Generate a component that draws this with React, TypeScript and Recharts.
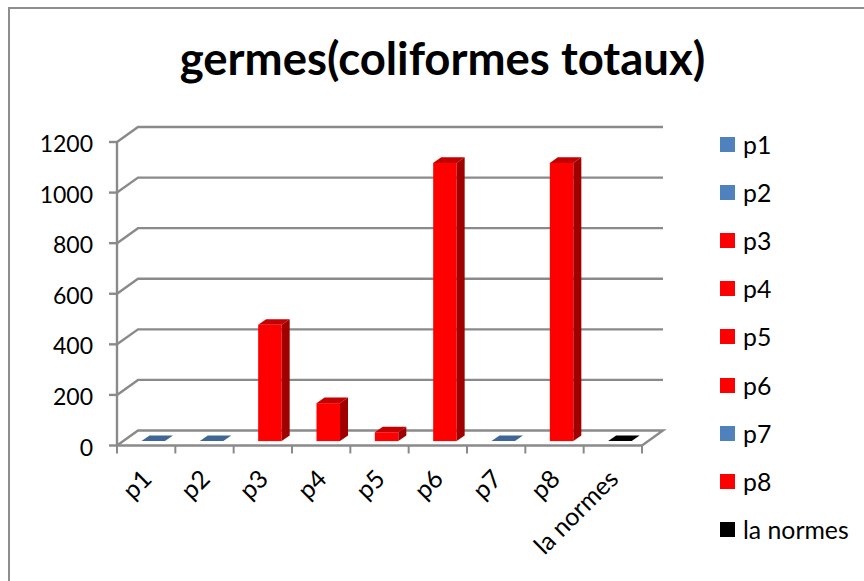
import { BarChart, Bar, XAxis, YAxis, CartesianGrid, Legend } from "recharts";

const categories = ["p1", "p2", "p3", "p4", "p5", "p6", "p7", "p8", "la normes"];
const values = [0, 0, 460, 150, 35, 1100, 0, 1100, 0];
const barColors = ["#4f81bd", "#4f81bd", "#ff0000", "#ff0000", "#ff0000", "#ff0000", "#4f81bd", "#ff0000", "#000000"];
const yTicks = [0, 200, 400, 600, 800, 1000, 1200];

const topShade: Record<string, string> = { "#4f81bd": "#3e6796", "#ff0000": "#c40000", "#000000": "#000000" };
const sideShade: Record<string, string> = { "#4f81bd": "#2f4e72", "#ff0000": "#a00000", "#000000": "#000000" };

const data = categories.map((name, i) => ({ name, value: values[i], color: barColors[i] }));

const FONT = "Lato, sans-serif";
const AXIS = "#8a8a8a";
const DEPTH_X = 21;
const DEPTH_Y = 15;

// bars sit a little behind the front plane, like the excel 3d column
function Column(props: any) {
  const { x, y, width, height, index } = props;
  const color = barColors[index];
  const left = x + 7.5;
  const right = left + width;
  const top = y - 4.4;
  const bottom = top + height;
  const dx = 8;
  const dy = 5.6;
  return (
    <g>
      <rect x={left} y={top} width={width} height={height} fill={color} />
      <polygon
        points={`${left},${top} ${right},${top} ${right + dx},${top - dy} ${left + dx},${top - dy}`}
        fill={topShade[color]}
      />
      <polygon
        points={`${right},${top} ${right + dx},${top - dy} ${right + dx},${bottom - dy} ${right},${bottom}`}
        fill={sideShade[color]}
      />
    </g>
  );
}

function WallLine(props: any) {
  const { x1, x2, y1 } = props;
  const isFloor = y1 > 440;
  return (
    <g key={`wall-${y1}`}>
      <polyline
        points={`${x1},${y1} ${x1 + DEPTH_X},${y1 - DEPTH_Y} ${x2 + DEPTH_X},${y1 - DEPTH_Y}${isFloor ? ` ${x2},${y1}` : ""}`}
        fill="none"
        stroke={AXIS}
        strokeWidth={2.4}
      />
    </g>
  );
}

function CategoryTick(props: any) {
  const { x, y, payload, index } = props;
  const step = 525 / categories.length;
  const last = index === categories.length - 1;
  return (
    <g>
      <line x1={x - step / 2} x2={x - step / 2} y1={y - 8} y2={y} stroke={AXIS} strokeWidth={2} />
      {last && <line x1={x + step / 2} x2={x + step / 2} y1={y - 8} y2={y} stroke={AXIS} strokeWidth={2} />}
      <text
        x={x + 7}
        y={y + 27}
        textAnchor="end"
        transform={`rotate(-45 ${x + 7} ${y + 27})`}
        fontFamily={FONT}
        fontSize={25}
        fill="#000"
      >
        {payload.value}
      </text>
    </g>
  );
}

function LegendList() {
  return (
    <div style={{ fontFamily: FONT, fontSize: 24.8, color: "#000" }}>
      {categories.map((name, i) => (
        <div key={name} style={{ display: "flex", alignItems: "center", height: 48.2 }}>
          <span style={{ width: 15, height: 15, background: barColors[i], marginRight: 8 }} />
          <span>{name}</span>
        </div>
      ))}
    </div>
  );
}

export default function App() {
  return (
    <div style={{ position: "absolute", left: 0, top: 0, width: 864, height: 581, overflow: "hidden", background: "#fff" }}>
      <div
        style={{
          position: "absolute",
          left: 8,
          top: 7,
          width: 900,
          height: 620,
          border: "2px solid #8e8e8e",
          boxSizing: "border-box",
        }}
      />
      <div style={{ position: "absolute", left: 0, top: 0 }}>
        <BarChart
          width={864}
          height={581}
          data={data}
          margin={{ top: 142, right: 222, bottom: 0, left: 0 }}
          barCategoryGap={0}
        >
          <text x={442.5} y={75} textAnchor="middle" fontFamily={FONT} fontWeight={700} fontSize={45.5} fill="#000">
            germes(coliformes totaux)
          </text>
          <CartesianGrid vertical={false} horizontal={WallLine} />
          <YAxis
            width={117}
            domain={[0, 1200]}
            ticks={yTicks}
            interval={0}
            tickSize={8}
            tickMargin={16}
            stroke={AXIS}
            strokeWidth={2.4}
            tick={{ fontFamily: FONT, fontSize: 23, fill: "#000", dy: 2 }}
          />
          <XAxis
            dataKey="name"
            height={135.5}
            interval={0}
            stroke={AXIS}
            strokeWidth={2.4}
            tickLine={false}
            tick={CategoryTick}
          />
          <Legend
            layout="horizontal"
            align="center"
            verticalAlign="middle"
            content={LegendList}
            wrapperStyle={{ left: 720, top: 120, width: 140 }}
          />
          <Bar dataKey="value" barSize={23.5} shape={Column} isAnimationActive={false} />
        </BarChart>
      </div>
    </div>
  );
}
